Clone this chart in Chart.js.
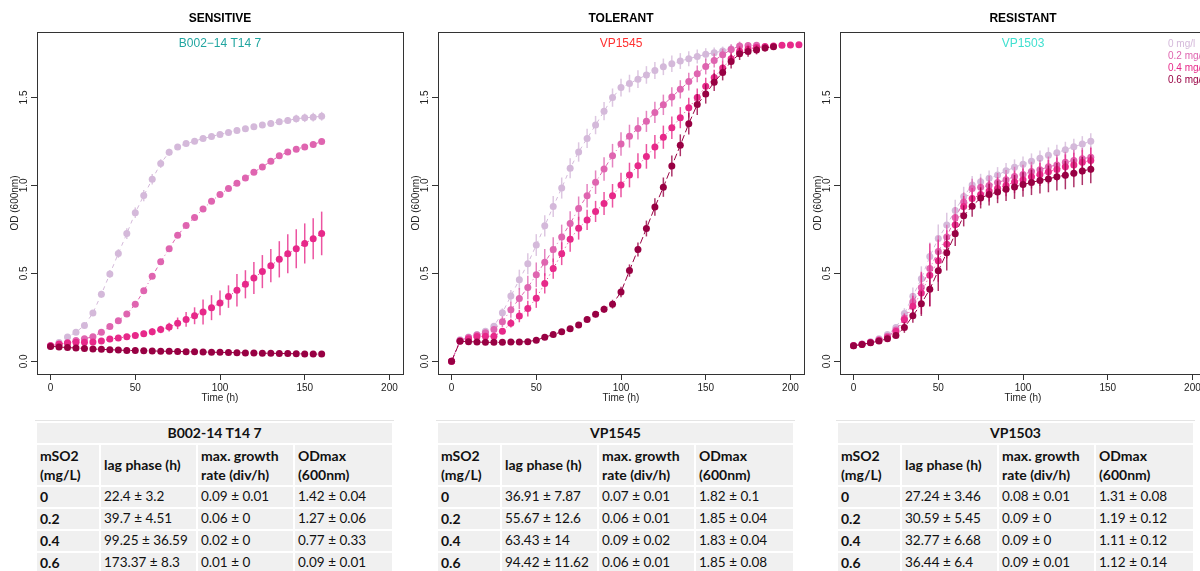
<!DOCTYPE html>
<html>
<head>
<meta charset="utf-8">
<script src="https://cdn.jsdelivr.net/npm/chart.js@4.4.1/dist/chart.umd.min.js"></script>
<style>
  html, body { margin: 0; padding: 0; background: #fff; }
  body { width: 1200px; height: 571px; overflow: hidden; position: relative; }
  canvas { position: absolute; top: 0; }
  .tbl { position: absolute; top: 420px; border-collapse: separate; border-spacing: 2px; table-layout: fixed;
         width: 357px; font-family: Lato, 'Open Sans', sans-serif; font-size: 13.5px; color: #111; background: #fff;
         border-top: 1px solid #e4e4e4; }
  .tbl th, .tbl td { background: #f0f0f0; padding: 0 3px; text-align: left; vertical-align: middle;
                     white-space: nowrap; overflow: hidden; line-height: 19.5px; }
  .tbl th { font-weight: bold; font-size: 14px; }
  .tbl td { font-weight: normal; }
  .tbl .r0 th { height: 20px; text-align: center; }
  .tbl .r1 th { height: 40px; }
  .tbl .r2 th, .tbl .r2 td { height: 20px; }
</style>
</head>
<body>
<canvas id="sensChart" width="410" height="410" style="left:0px"></canvas>
<canvas id="tolChart" width="410" height="410" style="left:401px"></canvas>
<canvas id="resChart" width="410" height="410" style="left:803px"></canvas>
<table id="sensTable" class="tbl" style="left:35px"></table>
<table id="tolTable" class="tbl" style="left:436px"></table>
<table id="resTable" class="tbl" style="left:836px"></table>
<script>
// axes
const xTicks = [0, 50, 100, 150, 200];
const yTicks = [0, 0.5, 1.0, 1.5];

// concentrations (mg/l)
const concLabels = ['0 mg/l', '0.2 mg/l', '0.4 mg/l', '0.6 mg/l'];
const concColors = ['#D4B9DA', '#DF65B0', '#E7298A', '#980043'];
const lineDashes = [[4, 4], [1, 3, 4, 3], [1, 3], [7, 3]];

// SENSITIVE - B002-14 T14 7
const sensTime = [0,5,10,15,20,25,30,35,40,45,50,55,60,65,70,75,80,85,90,95,100,105,110,115,120,125,130,135,140,145,150,155,160];
const sens0 = [0.088,0.107,0.138,0.166,0.204,0.275,0.381,0.497,0.613,0.726,0.845,0.942,1.035,1.124,1.189,1.219,1.238,1.251,1.267,1.278,1.290,1.301,1.312,1.322,1.333,1.343,1.352,1.362,1.369,1.379,1.384,1.388,1.393];
const sens2 = [0.088,0.095,0.105,0.118,0.128,0.140,0.166,0.198,0.231,0.269,0.324,0.401,0.483,0.566,0.640,0.717,0.772,0.818,0.866,0.910,0.949,0.982,1.012,1.042,1.075,1.105,1.137,1.168,1.190,1.206,1.219,1.233,1.249];
const sens4 = [0.088,0.098,0.104,0.109,0.108,0.110,0.115,0.127,0.132,0.140,0.147,0.157,0.168,0.181,0.195,0.216,0.238,0.259,0.280,0.305,0.332,0.368,0.404,0.438,0.474,0.510,0.544,0.580,0.611,0.640,0.670,0.697,0.727];
const sens6 = [0.085,0.082,0.078,0.076,0.073,0.070,0.068,0.066,0.064,0.062,0.061,0.060,0.059,0.058,0.057,0.056,0.055,0.054,0.053,0.052,0.051,0.050,0.049,0.048,0.047,0.046,0.046,0.045,0.044,0.043,0.042,0.041,0.041];
const sens0sd = [0.005,0.006,0.008,0.010,0.012,0.015,0.020,0.022,0.025,0.030,0.030,0.032,0.030,0.025,0.020,0.015,0.012,0.012,0.012,0.012,0.013,0.014,0.015,0.015,0.016,0.017,0.018,0.018,0.020,0.022,0.024,0.025,0.025];
const sens2sd = [0.004,0.004,0.005,0.005,0.005,0.006,0.006,0.007,0.008,0.008,0.010,0.012,0.012,0.012,0.012,0.010,0.010,0.008,0.008,0.008,0.008,0.008,0.008,0.008,0.008,0.008,0.008,0.008,0.008,0.008,0.008,0.008,0.010];
const sens4sd = [0.005,0.006,0.007,0.008,0.008,0.009,0.010,0.012,0.013,0.014,0.015,0.017,0.020,0.021,0.025,0.033,0.042,0.048,0.071,0.071,0.070,0.064,0.093,0.080,0.091,0.094,0.094,0.103,0.111,0.111,0.114,0.117,0.124];
const sens6sd = [0.004,0.004,0.004,0.004,0.004,0.004,0.004,0.004,0.004,0.004,0.004,0.004,0.004,0.004,0.004,0.004,0.004,0.004,0.004,0.004,0.004,0.004,0.004,0.004,0.004,0.004,0.004,0.004,0.004,0.004,0.004,0.004,0.004];

// TOLERANT - VP1545
const tolTime = [0,5,10,15,20,25,30,35,40,45,50,55,60,65,70,75,80,85,90,95,100,105,110,115,120,125,130,135,140,145,150,155,160,165,170,175,180,185,190,195,200,205];
const tol0 = [0,0.122,0.139,0.152,0.171,0.200,0.276,0.371,0.464,0.555,0.661,0.770,0.880,0.985,1.097,1.190,1.267,1.343,1.422,1.499,1.556,1.579,1.604,1.628,1.653,1.674,1.691,1.707,1.720,1.733,1.745,1.754,1.764,1.776];
const tol2 = [0,0.118,0.135,0.150,0.162,0.181,0.225,0.293,0.357,0.420,0.492,0.563,0.635,0.707,0.783,0.869,0.941,1.018,1.093,1.169,1.235,1.280,1.324,1.364,1.415,1.458,1.503,1.546,1.590,1.634,1.676,1.710,1.742,1.773,1.792,1.795,1.796];
const tol4 = [0,0.115,0.128,0.141,0.143,0.143,0.171,0.217,0.257,0.300,0.359,0.443,0.527,0.612,0.694,0.757,0.804,0.852,0.897,0.941,1.002,1.059,1.112,1.165,1.219,1.274,1.328,1.385,1.442,1.499,1.564,1.613,1.668,1.720,1.762,1.776,1.784,1.789,1.793,1.796,1.798,1.799];
const tol6 = [0,0.114,0.112,0.110,0.108,0.108,0.108,0.110,0.110,0.112,0.120,0.137,0.152,0.168,0.185,0.207,0.238,0.268,0.296,0.325,0.394,0.516,0.636,0.755,0.877,0.990,1.110,1.228,1.351,1.460,1.520,1.587,1.642,1.704,1.748,1.761,1.770,1.781,1.788];
const tol0sd = [0,0.005,0.006,0.008,0.010,0.015,0.025,0.035,0.057,0.060,0.062,0.060,0.060,0.060,0.057,0.055,0.055,0.052,0.052,0.052,0.050,0.050,0.050,0.050,0.048,0.047,0.047,0.045,0.043,0.040,0.035,0.030,0.025,0.020];
const tol2sd = [0,0.005,0.006,0.008,0.010,0.015,0.030,0.045,0.060,0.067,0.070,0.076,0.070,0.070,0.070,0.068,0.067,0.067,0.067,0.067,0.067,0.065,0.063,0.060,0.060,0.058,0.055,0.052,0.050,0.048,0.045,0.040,0.035,0.030,0.025,0.020,0.015];
const tol4sd = [0,0.005,0.006,0.008,0.008,0.008,0.015,0.025,0.035,0.045,0.055,0.057,0.057,0.065,0.071,0.065,0.057,0.060,0.065,0.067,0.070,0.070,0.071,0.070,0.068,0.066,0.064,0.060,0.056,0.052,0.048,0.044,0.040,0.035,0.030,0.025,0.020,0.015,0.012,0.010,0.008,0.006];
const tol6sd = [0,0.005,0.005,0.005,0.005,0.005,0.005,0.005,0.005,0.006,0.008,0.010,0.010,0.010,0.010,0.012,0.015,0.018,0.020,0.025,0.030,0.035,0.040,0.045,0.050,0.055,0.060,0.062,0.062,0.060,0.055,0.050,0.045,0.040,0.035,0.030,0.025,0.020,0.015];

// RESISTANT - VP1503
const resTime = [0,5,10,15,20,25,30,35,40,45,50,55,60,65,70,75,80,85,90,95,100,105,110,115,120,125,130,135,140];
const res0 = [0.090,0.098,0.112,0.128,0.152,0.192,0.272,0.370,0.470,0.596,0.698,0.775,0.858,0.937,1.003,1.021,1.040,1.059,1.083,1.103,1.120,1.137,1.154,1.171,1.186,1.203,1.220,1.235,1.251];
const res2 = [0.090,0.097,0.108,0.122,0.142,0.178,0.245,0.338,0.420,0.528,0.625,0.707,0.817,0.905,0.983,0.990,1.000,1.016,1.032,1.051,1.062,1.079,1.089,1.106,1.116,1.131,1.142,1.152,1.160];
const res4 = [0.088,0.097,0.107,0.118,0.135,0.170,0.237,0.313,0.389,0.490,0.572,0.665,0.776,0.880,0.925,0.949,0.968,0.984,1.000,1.020,1.032,1.049,1.062,1.077,1.091,1.106,1.116,1.131,1.142];
const res6 = [0.088,0.096,0.105,0.115,0.129,0.147,0.192,0.259,0.328,0.410,0.515,0.617,0.725,0.827,0.882,0.929,0.948,0.963,0.978,0.991,1.005,1.017,1.028,1.037,1.049,1.058,1.069,1.082,1.092];
const res0sd = [0.005,0.005,0.006,0.007,0.010,0.015,0.030,0.050,0.070,0.080,0.080,0.070,0.060,0.055,0.050,0.045,0.045,0.045,0.045,0.045,0.045,0.045,0.045,0.045,0.045,0.045,0.045,0.045,0.045];
const res2sd = [0.005,0.005,0.006,0.007,0.010,0.015,0.030,0.050,0.080,0.100,0.090,0.070,0.060,0.055,0.055,0.055,0.055,0.055,0.055,0.055,0.055,0.055,0.055,0.058,0.058,0.060,0.060,0.060,0.060];
const res4sd = [0.005,0.005,0.006,0.007,0.010,0.015,0.030,0.060,0.120,0.180,0.120,0.080,0.060,0.060,0.060,0.060,0.060,0.062,0.062,0.064,0.064,0.066,0.066,0.068,0.068,0.070,0.070,0.070,0.070];
const res6sd = [0.005,0.005,0.006,0.007,0.010,0.015,0.030,0.040,0.070,0.095,0.115,0.100,0.070,0.060,0.060,0.060,0.062,0.064,0.066,0.068,0.070,0.072,0.074,0.076,0.078,0.080,0.080,0.080,0.080];

// tables
const tableHead = ['mSO2<br>(mg/L)', 'lag phase (h)', 'max. growth<br>rate (div/h)', 'ODmax<br>(600nm)'];
const sensRows = [
  ['0', '22.4 ± 3.2', '0.09 ± 0.01', '1.42 ± 0.04'],
  ['0.2', '39.7 ± 4.51', '0.06 ± 0', '1.27 ± 0.06'],
  ['0.4', '99.25 ± 36.59', '0.02 ± 0', '0.77 ± 0.33'],
  ['0.6', '173.37 ± 8.3', '0.01 ± 0', '0.09 ± 0.01']
];
const tolRows = [
  ['0', '36.91 ± 7.87', '0.07 ± 0.01', '1.82 ± 0.1'],
  ['0.2', '55.67 ± 12.6', '0.06 ± 0.01', '1.85 ± 0.04'],
  ['0.4', '63.43 ± 14', '0.09 ± 0.02', '1.83 ± 0.04'],
  ['0.6', '94.42 ± 11.62', '0.06 ± 0.01', '1.85 ± 0.08']
];
const resRows = [
  ['0', '27.24 ± 3.46', '0.08 ± 0.01', '1.31 ± 0.08'],
  ['0.2', '30.59 ± 5.45', '0.09 ± 0', '1.19 ± 0.12'],
  ['0.4', '32.77 ± 6.68', '0.09 ± 0', '1.11 ± 0.12'],
  ['0.6', '36.44 ± 6.4', '0.09 ± 0.01', '1.12 ± 0.14']
];

const FONT = "'Liberation Sans', Arial, sans-serif";
const axisColor = '#333';
const textColor = '#222';
Chart.defaults.font.family = FONT;

// barras de erro (media +- sd) depois de cada serie
const errorBars = {
  id: 'errorBars',
  afterDatasetDraw(chart, args) {
    const ds = chart.data.datasets[args.index];
    const {ctx, chartArea, scales: {x, y}} = chart;
    ctx.save();
    ctx.beginPath();
    ctx.rect(chartArea.left, chartArea.top, chartArea.width, chartArea.height);
    ctx.clip();
    ctx.strokeStyle = ds.borderColor;
    ctx.globalAlpha = 0.8;
    ctx.lineWidth = 1.5;
    ds.data.forEach((p, i) => {
      const e = ds.sd[i];
      if (!e) return;
      const px = x.getPixelForValue(p.x);
      ctx.beginPath();
      ctx.moveTo(px, y.getPixelForValue(p.y - e));
      ctx.lineTo(px, y.getPixelForValue(p.y + e));
      ctx.stroke();
    });
    ctx.restore();
  }
};

// caixa do grafico, nome da cepa e legenda
const frame = {
  id: 'frame',
  afterDraw(chart, args, opts) {
    const {ctx, chartArea: a} = chart;
    ctx.save();
    ctx.strokeStyle = axisColor;
    ctx.lineWidth = 1;
    ctx.strokeRect(Math.round(a.left) + 0.5, Math.round(a.top) + 0.5, Math.round(a.width), Math.round(a.height));
    ctx.font = '12px ' + FONT;
    ctx.fillStyle = opts.strainColor;
    ctx.textAlign = 'center';
    ctx.textBaseline = 'middle';
    ctx.fillText(opts.strain, (a.left + a.right) / 2, a.top + 11.5);
    if (opts.legend) {
      ctx.font = '10px ' + FONT;
      ctx.textAlign = 'left';
      chart.data.datasets.forEach((ds, i) => {
        ctx.fillStyle = ds.borderColor;
        ctx.fillText(ds.label, a.right - 38, a.top + 12.3 + i * 11.9);
      });
    }
    ctx.restore();
  }
};

function makeChart(id, title, strain, strainColor, times, means, sds, legend) {
  const datasets = means.map((m, i) => ({
    label: concLabels[i],
    data: m.map((v, j) => ({x: times[j], y: v})),
    sd: sds[i],
    borderColor: concColors[i],
    backgroundColor: concColors[i],
    borderWidth: 1,
    borderDash: lineDashes[i],
    pointRadius: 3.5,
    pointBorderWidth: 0,
    pointBackgroundColor: concColors[i],
    tension: 0,
    order: 3 - i
  }));
  const gridOpts = {drawOnChartArea: false, drawTicks: true, tickLength: 6, color: axisColor, lineWidth: 1};
  new Chart(document.getElementById(id), {
    type: 'line',
    data: {datasets},
    options: {
      responsive: false,
      animation: false,
      events: [],
      layout: {padding: {left: 0, right: 7, top: 0, bottom: 0}},
      scales: {
        x: {
          type: 'linear', min: -8, max: 208,
          afterBuildTicks: s => { s.ticks = xTicks.map(v => ({value: v})); },
          afterFit: s => { s.height = 36; s.paddingLeft = 0; s.paddingRight = 0; },
          grid: gridOpts,
          border: {display: false},
          ticks: {padding: 2, color: textColor, font: {size: 10}, maxRotation: 0, autoSkip: false},
          title: {display: true, text: 'Time (h)', color: textColor, font: {size: 10}, padding: {top: 0, bottom: 5.7}}
        },
        y: {
          type: 'linear', min: -0.072, max: 1.872,
          afterBuildTicks: s => { s.ticks = yTicks.map(v => ({value: v})); },
          afterFit: s => { s.width = 37; s.paddingTop = 0; s.paddingBottom = 0; },
          grid: gridOpts,
          border: {display: false},
          ticks: {padding: 0, color: textColor, font: {size: 10}, minRotation: 90, maxRotation: 90,
                  crossAlign: 'center', autoSkip: false, callback: v => v.toFixed(1)},
          title: {display: true, text: 'OD (600nm)', color: textColor, font: {size: 10}, padding: {top: 9, bottom: 0}}
        }
      },
      plugins: {
        legend: {display: false},
        tooltip: {enabled: false},
        title: {display: true, text: title, fullSize: false, color: '#000',
                font: {size: 12, weight: 'bold'}, padding: {top: 11, bottom: 6.6}},
        frame: {strain, strainColor, legend}
      }
    },
    plugins: [errorBars, frame]
  });
}

function buildTable(id, strain, rows) {
  let html = '<colgroup><col style="width:62px"><col style="width:95px"><col style="width:95px"><col style="width:97px"></colgroup>';
  html += '<tr class="r0"><th colspan="4">' + strain + '</th></tr>';
  html += '<tr class="r1">' + tableHead.map(h => '<th>' + h + '</th>').join('') + '</tr>';
  rows.forEach(r => {
    html += '<tr class="r2"><th>' + r[0] + '</th><td>' + r[1] + '</td><td>' + r[2] + '</td><td>' + r[3] + '</td></tr>';
  });
  document.getElementById(id).innerHTML = html;
}

makeChart('sensChart', 'SENSITIVE', 'B002\u221214 T14 7', '#20A5A0',
  sensTime, [sens0, sens2, sens4, sens6], [sens0sd, sens2sd, sens4sd, sens6sd], false);
makeChart('tolChart', 'TOLERANT', 'VP1545', '#FF3030',
  tolTime, [tol0, tol2, tol4, tol6], [tol0sd, tol2sd, tol4sd, tol6sd], false);
makeChart('resChart', 'RESISTANT', 'VP1503', '#40E0D0',
  resTime, [res0, res2, res4, res6], [res0sd, res2sd, res4sd, res6sd], true);

buildTable('sensTable', 'B002-14 T14 7', sensRows);
buildTable('tolTable', 'VP1545', tolRows);
buildTable('resTable', 'VP1503', resRows);
</script>
</body>
</html>
